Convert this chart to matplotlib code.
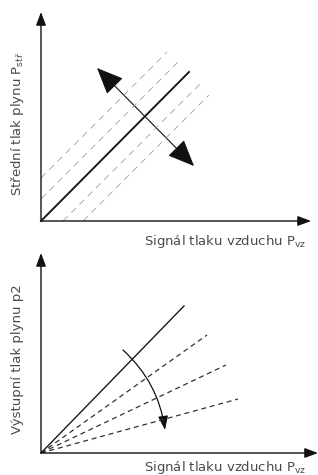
import numpy as np
import matplotlib
matplotlib.use('Agg')
import matplotlib.pyplot as plt
from matplotlib.patches import FancyArrowPatch

# Top chart (units = pixels from origin)
top_solid_x = [0, 148]
top_solid_y = [0, 149]
# parallel dashed lines: y = x + offset, drawn from x_start to x_end
top_offsets = [43, 22, -22, -42]
top_x_start = [0, 0, 22, 42]
top_x_end = [126, 138, 159, 168]
top_arrow_a = (56, 153)
top_arrow_b = (153, 55)

# Bottom chart
bot_solid_x = [0, 143]
bot_solid_y = [0, 147]
bot_dash_end_x = [166, 185, 197]
bot_dash_end_y = [118, 88, 54]
bot_arc_a = (82, 103)
bot_arc_b = (124, 23)

top_xlabel = 'Signál tlaku vzduchu P$_{\\mathregular{vz}}$'
top_ylabel = 'Střední tlak plynu P$_{\\mathregular{stř}}$'
bot_xlabel = 'Signál tlaku vzduchu P$_{\\mathregular{vz}}$'
bot_ylabel = 'Výstupní tlak plynu p2'

W, H = 318, 475
txt_color = '#4a4a4a'
plt.rcParams['font.family'] = ['DejaVu Sans']
plt.rcParams['mathtext.default'] = 'regular'

fig = plt.figure(figsize=(W / 100, H / 100), dpi=100)


def make_axes(left, top, right, bottom):
    ax = fig.add_axes([left / W, 1 - bottom / H, (right - left) / W, (bottom - top) / H])
    ax.set_xlim(0, right - left)
    ax.set_ylim(0, bottom - top)
    ax.axis('off')
    return ax


def draw_axis_arrows(ax):
    xmax = ax.get_xlim()[1]
    ymax = ax.get_ylim()[1]
    style = '-|>,head_length=0.8,head_width=0.3'
    ax.annotate('', xy=(0, ymax), xytext=(0, 0),
                arrowprops=dict(arrowstyle=style, color='#111111', lw=1.0,
                                mutation_scale=10, shrinkA=0, shrinkB=0),
                annotation_clip=False)
    ax.annotate('', xy=(xmax, 0), xytext=(0, 0),
                arrowprops=dict(arrowstyle=style, color='#111111', lw=1.0,
                                mutation_scale=10, shrinkA=0, shrinkB=0),
                annotation_clip=False)


# ---- top chart
ax1 = make_axes(41, 12, 311, 221)
draw_axis_arrows(ax1)
for off, xs, xe in zip(top_offsets, top_x_start, top_x_end):
    xx = np.array([xs, xe])
    ax1.plot(xx, xx + off, color='#a0a0a0', lw=0.6, dashes=(8, 6), clip_on=False)
ax1.plot(top_solid_x, top_solid_y, color='#1a1a1a', lw=1.4, clip_on=False)
ax1.add_patch(FancyArrowPatch(top_arrow_a, top_arrow_b,
                              arrowstyle='<|-|>,head_length=1.4,head_width=0.6',
                              mutation_scale=12, color='#111111', lw=0.8,
                              shrinkA=0, shrinkB=0, clip_on=False))

# ---- bottom chart
ax2 = make_axes(41, 253, 318, 453)
draw_axis_arrows(ax2)
for ex, ey in zip(bot_dash_end_x, bot_dash_end_y):
    ax2.plot([0, ex], [0, ey], color='#333333', lw=0.9, dashes=(4, 3), clip_on=False)
ax2.plot(bot_solid_x, bot_solid_y, color='#1a1a1a', lw=1.0, clip_on=False)
ax2.add_patch(FancyArrowPatch(bot_arc_a, bot_arc_b, connectionstyle='arc3,rad=-0.18',
                              arrowstyle='-|>,head_length=0.7,head_width=0.25',
                              mutation_scale=12, color='#111111', lw=0.9,
                              shrinkA=0, shrinkB=0, clip_on=False))

# ---- labels
fs = 9.5
fig.text(225 / W, 1 - 241 / H, top_xlabel, ha='center', va='center',
         fontsize=fs, color=txt_color)
fig.text(18 / W, 1 - 124 / H, top_ylabel, ha='center', va='center',
         rotation=90, fontsize=fs, color=txt_color)
fig.text(225 / W, 1 - 467 / H, bot_xlabel, ha='center', va='center',
         fontsize=fs, color=txt_color)
fig.text(18 / W, 1 - 359 / H, bot_ylabel, ha='center', va='center',
         rotation=90, fontsize=fs, color=txt_color)

fig.savefig('out.png', dpi=100, facecolor='white')
